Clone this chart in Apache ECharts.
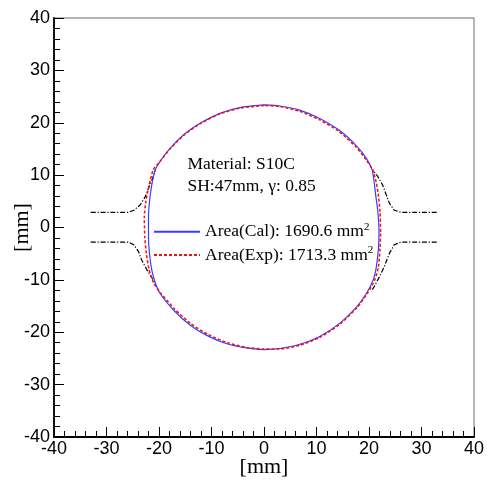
<!DOCTYPE html>
<html>
<head>
<meta charset="utf-8">
<script src="https://cdn.jsdelivr.net/npm/echarts@6/dist/echarts.min.js"></script>
<style>html,body{margin:0;padding:0;background:#fff}#c{width:488px;height:480px}</style>
</head>
<body>
<div id="c"></div>
<script>
// Calculated cross-section (blue)
const calShape = [[0,23.4],[-4.6,22.9],[-8.4,21.8],[-12.2,19.9],[-15.3,17.7],[-17.9,15.1],[-19.8,12.6],[-20.7,11.0],[-21.4,8.0],[-21.8,5.0],[-22.0,2.0],[-22.0,-2.0],[-21.8,-5.0],[-21.4,-8.0],[-20.7,-10.6],[-19.8,-12.6],[-17.2,-15.8],[-14.1,-18.6],[-10.9,-20.6],[-7.1,-22.2],[-3.3,-23.0],[0,-23.3],[3.0,-23.1],[6.8,-22.3],[10.6,-20.8],[14.4,-18.3],[17.6,-15.2],[19.5,-12.6],[20.8,-10.0],[21.4,-7.5],[21.8,-4.0],[21.9,-1.0],[21.7,3.0],[21.3,6.0],[21.0,8.5],[20.6,11.0],[19.5,13.2],[17.6,15.6],[14.4,18.5],[10.6,20.8],[6.8,22.4],[3.0,23.2],[0,23.4]];
// Experimental cross-section (red)
const expShape = [[0,23.3],[-4.6,22.8],[-8.4,21.7],[-12.2,19.8],[-15.3,17.6],[-17.9,15.0],[-19.9,12.5],[-21.1,11.0],[-21.9,8.0],[-22.5,5.0],[-22.8,2.0],[-22.7,-2.0],[-22.4,-5.0],[-21.9,-8.0],[-21.0,-10.6],[-19.6,-12.6],[-17.0,-15.6],[-13.9,-18.4],[-10.7,-20.4],[-7.0,-22.0],[-3.3,-22.9],[0,-23.2],[3.0,-23.2],[6.8,-22.5],[10.6,-21.0],[14.4,-18.5],[17.8,-15.2],[19.8,-12.4],[21.1,-10.0],[21.8,-7.5],[22.1,-4.0],[22.2,-1.0],[22.1,3.0],[21.8,6.0],[21.4,8.5],[20.7,11.0],[19.4,13.0],[17.4,15.5],[14.2,18.4],[10.5,20.6],[6.8,22.2],[3.0,23.1],[0,23.3]];
// Die (roll) profiles (black dash-dot)
const dieUpperLeft = [[-33,2.9],[-25.8,2.9],[-24.8,3.3],[-23.6,4.3],[-22.6,5.9],[-22.0,7.5],[-21.3,9.1],[-20.7,11.0]];
const dieLowerLeft = [[-33,-2.8],[-25.8,-2.8],[-24.8,-3.3],[-23.9,-4.6],[-23.3,-6.2],[-22.3,-8.1],[-21.3,-9.7],[-20.7,-10.6]];
const dieUpperRight = [[32.9,2.9],[26.1,2.9],[24.8,3.3],[23.9,4.6],[23.3,6.2],[22.6,8.1],[21.7,9.7],[20.7,11.0]];
const dieLowerRight = [[32.9,-2.8],[26.1,-2.8],[24.8,-3.3],[23.9,-4.9],[22.9,-7.5],[22.0,-9.4],[21.0,-11.3],[20.4,-12.2]];
const calArea = '1690.6';
const expArea = '1713.3';
const infoLines = ['Material: S10C', 'SH:47mm, γ: 0.85'];
const axisMin = -40, axisMax = 40, axisStep = 10;

const chart = echarts.init(document.getElementById('c'), null, {renderer: 'canvas'});
const serif = 'Liberation Serif';
const sans = 'Liberation Sans';
const dieStyle = {color: '#000', width: 1.2, type: [5, 1.8, 1.2, 1.8]};
function dieSeries(d){
  return {type: 'line', data: d, symbol: 'none', silent: true, z: 1,
    lineStyle: dieStyle, itemStyle: {color: '#000'}};
}
const axisCommon = {
  type: 'value', min: axisMin, max: axisMax, interval: axisStep,
  axisLine: {show: true, onZero: false, lineStyle: {color: '#000', width: 1.8}},
  axisTick: {show: true, inside: true, length: 10, lineStyle: {color: '#000', width: 1}},
  minorTick: {show: true, splitNumber: 5, length: 6, lineStyle: {color: '#000', width: 1}},
  splitLine: {show: false},
  axisLabel: {color: '#000', fontFamily: sans, fontSize: 18, margin: 3},
  name: '[mm]', nameLocation: 'middle', nameMoveOverlap: false,
  nameTextStyle: {fontFamily: serif, fontSize: 22, color: '#000'}
};
chart.setOption({
  animation: false,
  grid: {left: 54, top: 18, width: 420, height: 419, outerBoundsMode: 'none', containLabel: false,
    show: true, borderColor: '#6a6a6a', borderWidth: 1, backgroundColor: 'transparent'},
  xAxis: Object.assign({}, axisCommon, {nameGap: 19}),
  yAxis: Object.assign({}, axisCommon, {nameGap: 21, axisLabel: Object.assign({}, axisCommon.axisLabel, {margin: 4})}),
  legend: {
    orient: 'vertical', left: 153, top: 221.7, padding: 0,
    itemWidth: 46, itemHeight: 14, itemGap: 3.3,
    itemStyle: {opacity: 0},
    data: ['Area(Cal)', 'Area(Exp)'],
    formatter: function(name){
      const v = name === 'Area(Cal)' ? calArea : expArea;
      return '{t|' + name + ': ' + v + ' mm}{s|2}';
    },
    textStyle: {
      color: '#000', fontFamily: serif, fontSize: 17.5, lineHeight: 20,
      rich: {
        t: {fontFamily: serif, fontSize: 17.5, color: '#000', lineHeight: 20},
        s: {fontFamily: serif, fontSize: 11, color: '#000', verticalAlign: 'top', lineHeight: 20}
      }
    }
  },
  graphic: [
    {type: 'text', left: 187.5, top: 155, style: {text: infoLines[0], fontFamily: serif, fontSize: 17.5, fill: '#000'}},
    {type: 'text', left: 187.5, top: 177, style: {text: infoLines[1], fontFamily: serif, fontSize: 17.5, fill: '#000'}}
  ],
  series: [
    dieSeries(dieUpperLeft), dieSeries(dieLowerLeft), dieSeries(dieUpperRight), dieSeries(dieLowerRight),
    {name: 'Area(Cal)', type: 'line', data: calShape, symbol: 'none', z: 3, smooth: 0.2,
      lineStyle: {color: '#3b3bff', width: 1.2, type: 'solid'}, itemStyle: {color: '#3b3bff'}},
    {name: 'Area(Exp)', type: 'line', data: expShape, symbol: 'none', z: 4, smooth: 0.2,
      lineStyle: {color: '#ee1111', width: 1.5, type: [3, 2]}, itemStyle: {color: '#ee1111'}}
  ]
});
</script>
</body>
</html>
